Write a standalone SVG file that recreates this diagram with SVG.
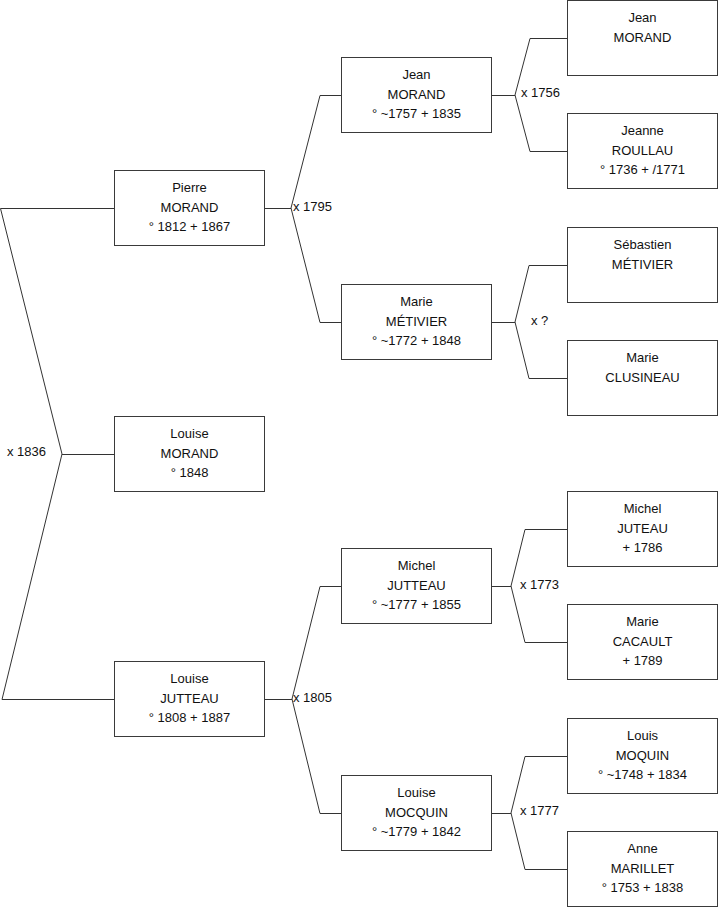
<svg xmlns="http://www.w3.org/2000/svg" width="719" height="908" viewBox="0 0 719 908">
<style>
.bg{fill:#ffffff}
.box{fill:#ffffff;stroke:#3a3a3a;stroke-width:1}
.sh{fill:none;stroke:#d8d8d8;stroke-width:1}
.ln{fill:none;stroke:#333333;stroke-width:1}
text{font-family:"Liberation Sans",Arial,sans-serif;font-size:13px;fill:#111111}
.c{text-anchor:middle}
</style>
<rect class="bg" x="0" y="0" width="719" height="908"/>
<g id="connectors">
<polyline class="ln" points="114,208.5 0.5,208.5 62,454 2,699.5 114,699.5"/>
<line class="ln" x1="62" y1="454.5" x2="114" y2="454.5"/>
<polyline class="ln" points="341,95.5 320,95.5 291,208 320,322.5 341,322.5"/>
<line class="ln" x1="265" y1="208.5" x2="291" y2="208.5"/>
<polyline class="ln" points="341,586.5 320,586.5 292,699 320,813.5 341,813.5"/>
<line class="ln" x1="265" y1="699.5" x2="292" y2="699.5"/>
<polyline class="ln" points="567,38.5 530,38.5 515,95 530,151.5 567,151.5"/>
<line class="ln" x1="492" y1="95.5" x2="515" y2="95.5"/>
<polyline class="ln" points="567,265.5 529,265.5 515,322 529,378.5 567,378.5"/>
<line class="ln" x1="492" y1="322.5" x2="515" y2="322.5"/>
<polyline class="ln" points="567,529.5 525,529.5 511,586 525,642.5 567,642.5"/>
<line class="ln" x1="492" y1="586.5" x2="511" y2="586.5"/>
<polyline class="ln" points="567,756.5 525,756.5 511,813 525,869.5 567,869.5"/>
<line class="ln" x1="492" y1="813.5" x2="511" y2="813.5"/>
<text x="7" y="456">x 1836</text>
<text x="293" y="211">x 1795</text>
<text x="293" y="702">x 1805</text>
<text x="521" y="97">x 1756</text>
<text x="531" y="325">x ?</text>
<text x="520" y="589">x 1773</text>
<text x="520" y="815">x 1777</text>
</g>
<g id="pierre-morand">
<rect class="box" x="114.5" y="170.5" width="150" height="75"/>
<text class="c" x="189.5" y="192">Pierre</text>
<text class="c" x="189.5" y="212">MORAND</text>
<text class="c" x="189.5" y="231">° 1812 + 1867</text>
</g>
<g id="louise-morand">
<rect class="box" x="114.5" y="416.5" width="150" height="75"/>
<text class="c" x="189.5" y="438">Louise</text>
<text class="c" x="189.5" y="458">MORAND</text>
<text class="c" x="189.5" y="477">° 1848</text>
</g>
<g id="louise-jutteau">
<rect class="box" x="114.5" y="661.5" width="150" height="75"/>
<text class="c" x="189.5" y="683">Louise</text>
<text class="c" x="189.5" y="703">JUTTEAU</text>
<text class="c" x="189.5" y="722">° 1808 + 1887</text>
</g>
<g id="jean-morand-1757">
<rect class="box" x="341.5" y="57.5" width="150" height="75"/>
<text class="c" x="416.5" y="79">Jean</text>
<text class="c" x="416.5" y="99">MORAND</text>
<text class="c" x="416.5" y="118">° ~1757 + 1835</text>
</g>
<g id="marie-metivier">
<rect class="box" x="341.5" y="284.5" width="150" height="75"/>
<text class="c" x="416.5" y="306">Marie</text>
<text class="c" x="416.5" y="326">MÉTIVIER</text>
<text class="c" x="416.5" y="345">° ~1772 + 1848</text>
</g>
<g id="michel-jutteau">
<rect class="box" x="341.5" y="548.5" width="150" height="75"/>
<text class="c" x="416.5" y="570">Michel</text>
<text class="c" x="416.5" y="590">JUTTEAU</text>
<text class="c" x="416.5" y="609">° ~1777 + 1855</text>
</g>
<g id="louise-mocquin">
<rect class="box" x="341.5" y="775.5" width="150" height="75"/>
<text class="c" x="416.5" y="797">Louise</text>
<text class="c" x="416.5" y="817">MOCQUIN</text>
<text class="c" x="416.5" y="836">° ~1779 + 1842</text>
</g>
<g id="jean-morand">
<rect class="box" x="567.5" y="0.5" width="150" height="75"/>
<text class="c" x="642.5" y="22">Jean</text>
<text class="c" x="642.5" y="42">MORAND</text>
</g>
<g id="jeanne-roullau">
<rect class="box" x="567.5" y="113.5" width="150" height="75"/>
<text class="c" x="642.5" y="135">Jeanne</text>
<text class="c" x="642.5" y="155">ROULLAU</text>
<text class="c" x="642.5" y="174">° 1736 + /1771</text>
</g>
<g id="sebastien-metivier">
<rect class="box" x="567.5" y="227.5" width="150" height="75"/>
<text class="c" x="642.5" y="249">Sébastien</text>
<text class="c" x="642.5" y="269">MÉTIVIER</text>
</g>
<g id="marie-clusineau">
<rect class="box" x="567.5" y="340.5" width="150" height="75"/>
<text class="c" x="642.5" y="362">Marie</text>
<text class="c" x="642.5" y="382">CLUSINEAU</text>
</g>
<g id="michel-juteau">
<rect class="box" x="567.5" y="491.5" width="150" height="75"/>
<text class="c" x="642.5" y="513">Michel</text>
<text class="c" x="642.5" y="533">JUTEAU</text>
<text class="c" x="642.5" y="552">+ 1786</text>
</g>
<g id="marie-cacault">
<rect class="box" x="567.5" y="604.5" width="150" height="75"/>
<text class="c" x="642.5" y="626">Marie</text>
<text class="c" x="642.5" y="646">CACAULT</text>
<text class="c" x="642.5" y="665">+ 1789</text>
</g>
<g id="louis-moquin">
<rect class="box" x="567.5" y="718.5" width="150" height="75"/>
<text class="c" x="642.5" y="740">Louis</text>
<text class="c" x="642.5" y="760">MOQUIN</text>
<text class="c" x="642.5" y="779">° ~1748 + 1834</text>
</g>
<g id="anne-marillet">
<rect class="box" x="567.5" y="831.5" width="150" height="75"/>
<text class="c" x="642.5" y="853">Anne</text>
<text class="c" x="642.5" y="873">MARILLET</text>
<text class="c" x="642.5" y="892">° 1753 + 1838</text>
</g>
</svg>
